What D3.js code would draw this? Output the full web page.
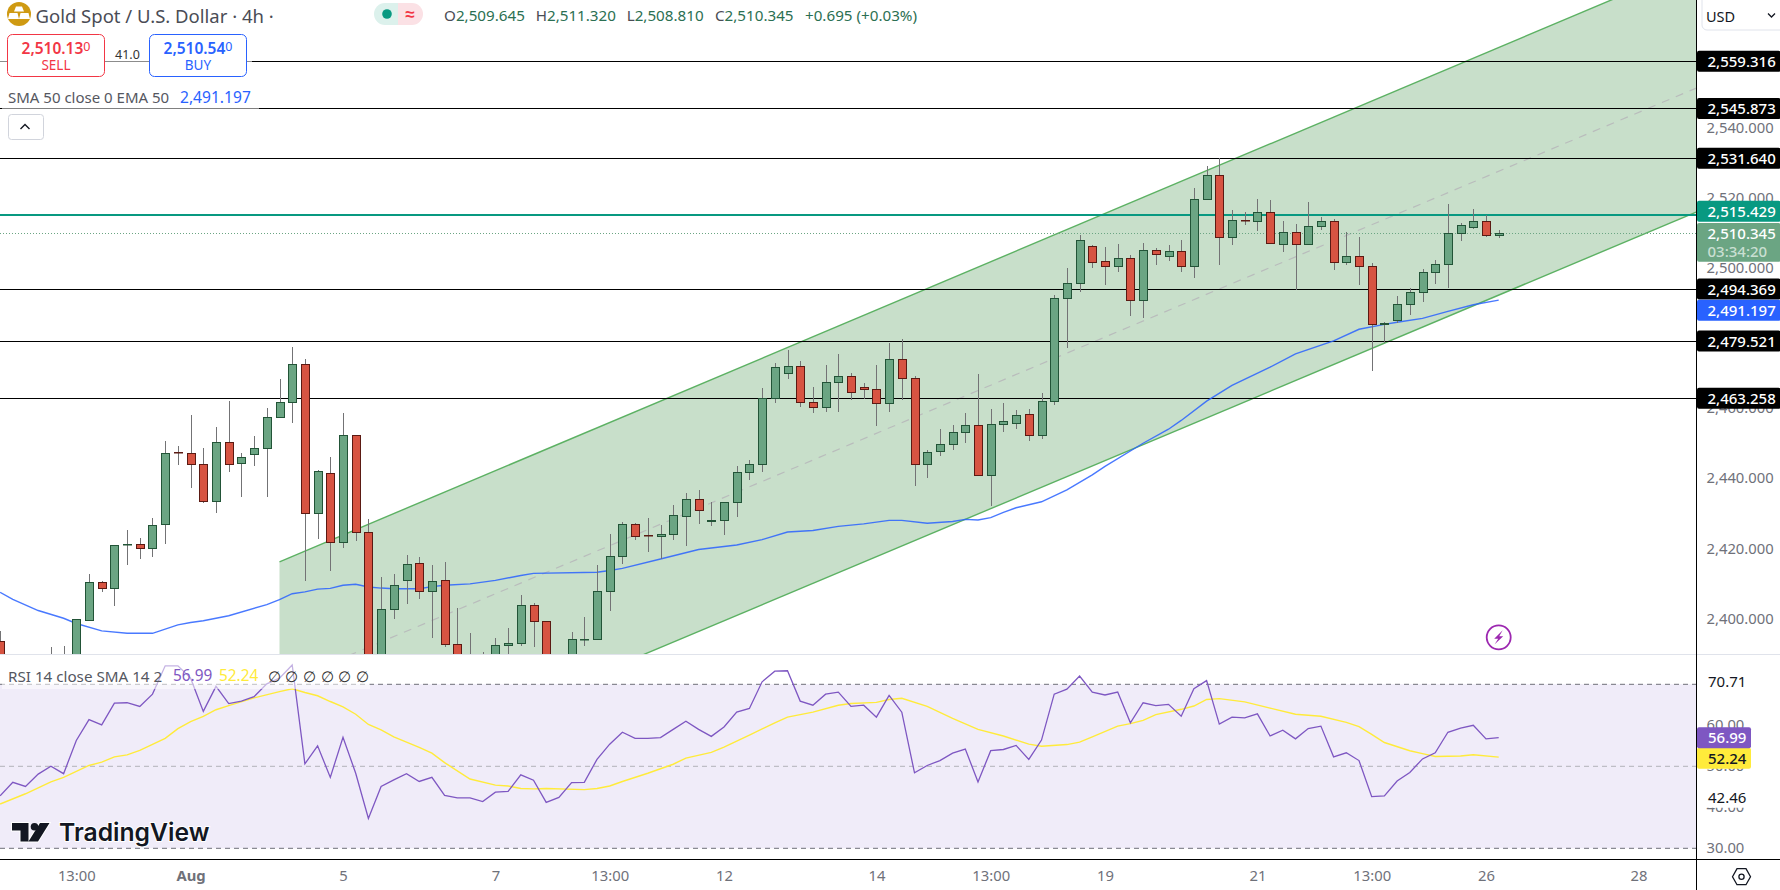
<!DOCTYPE html>
<html>
<head>
<meta charset="utf-8">
<script src="https://cdn.jsdelivr.net/npm/d3@7"></script>
<style>
  html, body { margin: 0; padding: 0; background: #fff; }
  svg { display: block; }
  text { font-family: "Noto Sans", sans-serif; }
</style>
</head>
<body>
<div id="chart"></div>
<script>
// Candles (index -6 is the one cut by the left edge, index 0 is "13:00")
var firstIndex = -6;
var opens = [2394.0,2383,2385,2383,2386,2385,
  2385,2399.9,2410.8,2409.0,2421.5,2421.6,2420.4,2427.2,2447.9,2447.6,
  2444.4,2433.8,2450.7,2444.6,2447.2,2448.9,2457.7,2462.1,2472.9,2430.4,
  2441.9,2422.2,2452.7,2425.0,2381,2403.1,2411.4,2416.2,2408.2,2411.4,
  2393.1,2385,2386,2386,2392.8,2393.4,2404.0,2399.6,2385,2388,
  2394.4,2394.5,2408.2,2418.2,2427.3,2424.2,2423.9,2424.5,2429.6,2434.4,
  2428.2,2428.5,2433.6,2442.1,2444.4,2463.2,2470.4,2472.4,2462.1,2460.7,
  2467.8,2469.5,2466.4,2465.8,2461.8,2474.4,2468.9,2444.4,2448.1,2450.1,
  2453.5,2455.5,2441.3,2455.8,2456.1,2458.7,2452.7,2462.4,2491.7,2495.9,
  2506.6,2502.3,2500.9,2503.1,2491.2,2505.4,2503.7,2505.1,2500.9,2520.0,
  2526.8,2509.1,2514.0,2513.7,2516.3,2507.1,2510.6,2507.1,2512.3,2513.7,
  2502.0,2503.7,2500.9,2484.3,2485.5,2490.0,2493.5,2499.2,2501.4,2510.3,
  2512.0,2513.7,2509.645];
var highs = [2396.9,2387,2388,2387,2392.3,2392.6,
  2400.2,2413.2,2411.2,2421.3,2425.6,2423.3,2429.0,2451.0,2449.6,2458.4,
  2449.0,2455.0,2462.4,2447.6,2452.4,2460.4,2468.7,2477.8,2474.4,2442.7,
  2446.4,2459.0,2452.7,2428.7,2412.2,2413.2,2418.5,2417.9,2415.7,2416.5,
  2403.4,2396.3,2390.8,2394.8,2397.7,2407.1,2404.8,2399.6,2389,2396.5,
  2400.8,2415.6,2424.5,2427.9,2427.6,2429.0,2427.0,2432.7,2436.2,2437.0,
  2433.6,2433.6,2443.9,2445.6,2466.1,2473.2,2476.9,2473.8,2466.4,2472.6,
  2475.8,2470.4,2467.5,2472.6,2478.9,2480.1,2469.5,2448.4,2454.4,2455.5,
  2459.0,2470.1,2460.1,2461.8,2459.8,2460.1,2464.7,2492.6,2500.3,2509.7,
  2506.9,2506.3,2507.1,2504.0,2507.4,2506.0,2506.9,2508.3,2523.1,2529.4,
  2531.7,2516.8,2516.3,2520.0,2519.7,2513.7,2512.8,2519.1,2514.8,2514.3,
  2510.6,2509.1,2501.7,2484.9,2492.3,2494.6,2500.0,2502.6,2518.5,2513.1,
  2517.1,2515.4,2511.32];
var lows = [2382,2380,2381,2380,2383,2383,
  2383,2399.9,2408.1,2404.1,2415.8,2417.5,2418.1,2421.8,2444.2,2437.5,
  2433.5,2430.4,2442.3,2435.2,2444.0,2435.2,2457.7,2456.2,2411.0,2423.1,
  2414.1,2420.4,2422.4,2378,2378,2400.4,2404.7,2406.1,2395.0,2392.2,
  2383,2382,2384,2384,2389,2392.7,2392.2,2383,2384,2386,
  2392.7,2394.2,2402.7,2416.1,2422.9,2419.5,2417.3,2422.8,2421.2,2427.5,
  2426.9,2424.1,2429.5,2440.0,2442.3,2462.0,2468.8,2460.6,2458.9,2459.2,
  2459.2,2462.7,2463.0,2455.4,2459.4,2462.7,2438.3,2440.6,2446.9,2448.6,
  2450.6,2441.3,2432.4,2453.7,2454.6,2450.9,2451.5,2461.4,2477.7,2493.4,
  2500.5,2495.4,2499.3,2486.8,2486.0,2501.1,2502.5,2499.1,2497.6,2520.0,
  2501.1,2507.0,2512.7,2511.0,2507.4,2504.8,2494.0,2507.1,2511.3,2499.7,
  2501.1,2495.4,2471.1,2478.9,2484.6,2487.0,2490.8,2495.9,2494.8,2508.2,
  2511.4,2509.1,2508.81];
var closes = [2385,2385,2383,2386,2388,2386,
  2400.0,2410.8,2409.0,2421.3,2421.6,2420.4,2427.0,2447.6,2447.8,2444.3,
  2433.8,2450.7,2444.3,2446.4,2449.0,2457.8,2462.1,2472.9,2430.4,2442.4,
  2422.2,2452.7,2425.0,2380,2403.1,2409.9,2415.9,2408.2,2411.1,2393.1,
  2385,2388,2389,2392.8,2393.4,2404.0,2399.6,2385,2388,2394.5,
  2394.5,2408.2,2418.2,2427.3,2423.9,2424.1,2424.5,2429.9,2434.4,2431.3,
  2428.5,2433.6,2442.1,2444.4,2463.2,2472.1,2472.4,2462.1,2460.7,2467.8,
  2469.5,2464.9,2465.8,2461.8,2474.4,2468.9,2444.4,2447.8,2450.1,2453.5,
  2455.5,2441.3,2455.8,2456.7,2458.4,2452.7,2462.4,2491.7,2496.0,2508.3,
  2501.9,2500.9,2503.1,2491.2,2505.4,2504.3,2505.1,2500.9,2520.0,2526.8,
  2509.1,2514.0,2513.9,2516.3,2507.4,2510.6,2507.1,2512.3,2513.7,2502.0,
  2503.7,2500.9,2484.3,2484.6,2490.0,2493.5,2499.2,2501.4,2510.3,2512.5,
  2513.7,2509.7,2510.345];

// EMA 50, read at the candles where the line bends
var emaIndex = [-6,-5,-3,-1,0,2,4,6,8,9,10,12,15,16,17,18,19,20,21,22,23,24,25,27,28,29,31,33,35,36,41,42,43,46,49,52,54,56,58,60,62,64,65,67,69,70,71,72,73,74,76,78,80,81,84,86,87,89,91,94,96,99,101,103,104,106,108,110,112];
var emaValues = [2407.9,2405.9,2402.7,2400.5,2399.0,2396.9,2396.2,2396.2,2398.6,2399.3,2399.8,2401.2,2404.4,2405.8,2407.5,2408.0,2408.8,2409.0,2409.9,2410.2,2409.4,2409.1,2408.9,2408.9,2409.5,2409.9,2410.3,2411.3,2412.7,2413.3,2413.6,2414.1,2414.7,2417.4,2420.1,2421.4,2422.9,2425.1,2425.5,2426.7,2427.4,2428.4,2428.4,2427.6,2428.1,2428.7,2428.5,2429.2,2430.7,2432.0,2433.7,2437.1,2441.4,2443.8,2450.4,2454.4,2456.9,2462.4,2466.9,2472.1,2475.9,2479.6,2482.9,2484.3,2484.9,2486.0,2488.0,2489.9,2491.197];

// Regression channel
var channelIndex = [16, 128];
var channelUpper = [2416.6, 2587.7];
var channelLower = [2346.5, 2517.0];

// Price lines and axis
var blackLevels = [2559.316, 2545.873, 2531.64, 2494.369, 2479.521, 2463.258];
var pivotLevel = 2515.429;
var lastPrice = 2510.345;
var emaLast = 2491.197;
var priceTicks = [2400, 2420, 2440, 2460, 2480, 2500, 2520, 2540, 2560];

// RSI, one value per candle from index -6
var rsiValues = [42.8,46.1,45.1,48.1,50.0,48.2,
  56.3,61.4,60.1,65.4,65.5,64.6,67.6,74.5,74.5,71.5,
  63.4,69.5,65.3,65.9,67.0,70.1,71.5,74.7,50.6,55.0,
  47.3,57.1,48.3,37.3,45.1,46.7,48.2,46.3,47.3,42.9,
  42.3,42.3,41.4,43.7,43.9,47.9,46.6,41.2,42.4,46.0,
  46.1,51.7,55.4,58.3,56.8,56.8,57.0,59.0,61.0,59.0,
  57.3,59.6,63.2,64.1,70.6,73.2,73.3,65.9,64.9,67.6,
  68.1,64.6,64.9,62.0,67.3,63.2,48.4,50.2,51.4,53.2,
  54.2,46.2,53.8,54.1,55.1,51.7,56.4,67.6,68.8,72.0,
  68.1,67.4,68.1,60.6,65.5,64.8,65.1,62.2,68.9,70.9,
  60.3,62.0,61.8,62.8,57.4,58.8,56.7,59.2,59.8,52.3,
  53.3,51.4,42.6,42.8,46.4,48.5,51.8,53.3,58.3,59.3,
  60.0,56.7,56.99];

// RSI moving average, read where it bends
var rsiSmaIndex = [-6,-4,-2,-1,1,2,3,4,5,7,8,9,10,11,12,14,16,17,18,19,20,21,22,23,24,25,27,28,29,31,33,34,35,36,37,40,41,42,43,45,47,48,50,51,53,55,56,58,60,61,63,64,65,67,69,71,73,75,76,78,79,80,82,83,84,85,87,88,89,90,92,94,96,98,100,101,102,103,105,106,107,109,110,112];
var rsiSmaValues = [40.8,43.3,46.2,47.3,50.2,51.0,52.3,52.8,53.9,56.8,59.2,60.9,62.2,63.8,64.8,66.7,68.2,68.9,68.0,67.2,65.8,64.5,62.7,60.2,58.9,57.2,54.6,53.2,50.9,46.9,45.4,45.2,44.6,44.5,44.6,44.3,44.6,45.2,46.3,48.3,50.5,52.0,53.4,54.7,57.6,60.6,62.0,63.2,64.9,65.3,65.6,66.3,66.6,64.6,61.7,59.0,57.4,55.4,54.9,55.3,55.9,57.2,59.8,60.4,61.2,62.6,63.9,64.7,66.3,66.5,65.7,64.2,62.7,62.2,60.7,59.7,57.8,55.8,53.8,53.1,52.4,52.5,52.8,52.24];

var rsiLevels = [70, 50, 30];
var rsiTicks = [30, 40, 50, 60];
var rsiLast = 56.99;
var rsiSmaLast = 52.24;
var rsiLow = 42.46;
var rsiHigh = 70.71;

// Time axis
var timeTickIndex = [0, 9, 21, 33, 42, 51, 63, 72, 81, 93, 102, 111, 123];
var timeTickLabels = ["13:00", "Aug", "5", "7", "13:00", "12", "14", "13:00", "19", "21", "13:00", "26", "28"];

// Colours and page frame
var upFill = "#6ba583", upLine = "#225437", downFill = "#d75442", downLine = "#5b1a13";
var W = 1780, H = 890, paneRight = 1696.5, priceBottom = 654, rsiBottom = 859;

var svg = d3.select("#chart").append("svg").attr("width", W).attr("height", H);

// Scales
var x = d3.scaleLinear().domain([-6, 128]).range([0.1, 1701.9]);
var y = d3.scaleLinear().domain([2390.3, 2559.316]).range([priceBottom, 61.3]);
var yRsi = d3.scaleLinear().domain([30, 70]).range([848.3, 684.3]);

// Snap to the middle of a pixel row or column, the lines in the picture are crisp
function crisp(v) { return Math.round(v) + 0.5; }

var defs = svg.append("defs");
defs.append("clipPath").attr("id", "priceClip").append("rect")
  .attr("x", 0).attr("y", 0).attr("width", paneRight).attr("height", priceBottom);
defs.append("clipPath").attr("id", "rsiClip").append("rect")
  .attr("x", 0).attr("y", priceBottom).attr("width", paneRight).attr("height", rsiBottom - priceBottom);

// Small helper for all the loose text
function label(parent, px, py, str, size, color, weight, anchor) {
  return parent.append("text")
    .attr("x", px).attr("y", py)
    .attr("font-size", size)
    .attr("fill", color)
    .attr("font-weight", weight || 400)
    .attr("text-anchor", anchor || "start")
    .attr("dominant-baseline", "central")
    .text(str);
}

// ---------- Price pane ----------
var price = svg.append("g").attr("clip-path", "url(#priceClip)");

var channelRows = channelIndex.map(function (d, i) {
  return { i: d, up: channelUpper[i], lo: channelLower[i] };
});
price.append("path").datum(channelRows)
  .attr("fill", "#c8dfca")
  .attr("d", d3.area().x(function (d) { return x(d.i); })
    .y0(function (d) { return y(d.lo); }).y1(function (d) { return y(d.up); }));

["up", "lo"].forEach(function (k) {
  price.append("path").datum(channelRows)
    .attr("fill", "none").attr("stroke", "#5cb163").attr("stroke-width", 1.4)
    .attr("d", d3.line().x(function (d) { return x(d.i); }).y(function (d) { return y(d[k]); }));
});
price.append("path").datum(channelRows)
  .attr("fill", "none").attr("stroke", "#b9bcbc").attr("stroke-width", 1.2)
  .attr("stroke-dasharray", "8 7")
  .attr("d", d3.line().x(function (d) { return x(d.i); }).y(function (d) { return y((d.up + d.lo) / 2); }));

// Horizontal levels
price.selectAll(".level").data(blackLevels).enter().append("line")
  .attr("x1", 0).attr("x2", paneRight)
  .attr("y1", function (d) { return crisp(y(d) - 0.5); }).attr("y2", function (d) { return crisp(y(d) - 0.5); })
  .attr("stroke", "#000").attr("stroke-width", 1);
price.append("line").attr("x1", 0).attr("x2", paneRight)
  .attr("y1", Math.round(y(pivotLevel))).attr("y2", Math.round(y(pivotLevel)))
  .attr("stroke", "#089981").attr("stroke-width", 2);
price.append("line").attr("x1", 0).attr("x2", paneRight)
  .attr("y1", crisp(y(lastPrice) - 0.5)).attr("y2", crisp(y(lastPrice) - 0.5))
  .attr("stroke", "#6ba583").attr("stroke-width", 1).attr("stroke-dasharray", "1 2");

// EMA
price.append("path").datum(emaValues)
  .attr("fill", "none").attr("stroke", "#2962ff").attr("stroke-width", 1.4).attr("opacity", 0.85)
  .attr("d", d3.line().x(function (d, i) { return x(emaIndex[i]); }).y(function (d) { return y(d); }));

// Candles
var candles = d3.range(opens.length).map(function (i) {
  return { i: i + firstIndex, o: opens[i], h: highs[i], l: lows[i], c: closes[i] };
});
var candle = price.selectAll(".candle").data(candles).enter().append("g");
candle.append("line")
  .attr("x1", function (d) { return crisp(x(d.i)); })
  .attr("x2", function (d) { return crisp(x(d.i)); })
  .attr("y1", function (d) { return Math.round(y(d.h)); }).attr("y2", function (d) { return Math.round(y(d.l)); })
  .attr("stroke", "#737375").attr("stroke-width", 1);
candle.append("rect")
  .attr("x", function (d) { return crisp(x(d.i)) - 4; })
  .attr("width", 8)
  .attr("y", function (d) { return crisp(y(Math.max(d.o, d.c)) - 0.5); })
  .attr("height", function (d) {
    // a doji still shows as a thin bar
    return Math.max(0.5, crisp(y(Math.min(d.o, d.c)) - 0.5) - crisp(y(Math.max(d.o, d.c)) - 0.5));
  })
  .attr("fill", function (d) { return d.c >= d.o ? upFill : downFill; })
  .attr("stroke", function (d) { return d.c >= d.o ? upLine : downLine; })
  .attr("stroke-width", 1);

// Lightning marker
var bolt = svg.append("g").attr("transform", "translate(" + x(112) + ",637.3)");
bolt.append("circle").attr("r", 12).attr("fill", "#fff").attr("stroke", "#9c27b0").attr("stroke-width", 1.8);
bolt.append("path").attr("d", "M4,-7 L-4.5,1.5 L-0.5,1.5 L-4,7 L4.5,-1 L0.5,-1 Z").attr("fill", "#9c27b0");

// Header text and overlays
var head = svg.append("g");
head.append("circle").attr("cx", 19).attr("cy", 14).attr("r", 12).attr("fill", "#cf9a12");
head.append("path").attr("d", "M16,6.5 H22 L24,11.5 H14 Z M9.5,13 H17.5 L19,19 H8 Z M20.5,13 H28.5 L30,19 H19 Z").attr("fill", "#fff");
label(head, 35.5, 15, "Gold Spot / U.S. Dollar · 4h ·", 18.5, "#4a4c55");

head.append("path").attr("d", "M385,3 H398 V25 H385 A11,11 0 0 1 385,3 Z").attr("fill", "#dcf1ec");
head.append("path").attr("d", "M398,3 H412 A11,11 0 0 1 412,25 H398 Z").attr("fill", "#fbe1e5");
head.append("circle").attr("cx", 387).attr("cy", 14).attr("r", 4.8).attr("fill", "#089981");
label(head, 410, 13.5, "≈", 17, "#f23645", 700, "middle");

var ohlc = [["O", "2,509.645", 444], ["H", "2,511.320", 535.7], ["L", "2,508.810", 626.7], ["C", "2,510.345", 715]];
ohlc.forEach(function (d) {
  var t = label(head, d[2], 15, d[0], 15.2, "#4a4c55");
  t.append("tspan").attr("fill", "#2b6f52").text(d[1]);
});
label(head, 805, 15, "+0.695 (+0.03%)", 15.2, "#2b6f52");

// Translucent legend bands wash out the black levels behind them
head.append("rect").attr("x", 0).attr("y", 32).attr("width", 252).attr("height", 46).attr("fill", "#fff").attr("opacity", 0.55);
head.append("rect").attr("x", 2).attr("y", 86).attr("width", 257).attr("height", 23).attr("fill", "#fff").attr("opacity", 0.5);

function tradeBox(bx, main, small, word, color) {
  head.append("rect").attr("x", bx + 0.5).attr("y", 34.5).attr("width", 97).attr("height", 42).attr("rx", 5)
    .attr("fill", "#fff").attr("stroke", color).attr("stroke-width", 1);
  var t = label(head, bx + 49, 47.5, main, 15.5, color, 600, "middle");
  t.append("tspan").attr("font-size", 12.5).attr("font-weight", 400).attr("dy", -1.5).text(small);
  label(head, bx + 49, 65, word, 13.5, color, 400, "middle");
}
tradeBox(7, "2,510.13", "0", "SELL", "#f23645");
tradeBox(149, "2,510.54", "0", "BUY", "#2962ff");
label(head, 127.4, 54.3, "41.0", 12.5, "#333", 400, "middle");

label(head, 8, 97, "SMA 50 close 0 EMA 50", 15, "#55575f");
label(head, 180, 97, "2,491.197", 15.6, "#2962ff");

head.append("rect").attr("x", 8.5).attr("y", 114.5).attr("width", 35).attr("height", 25).attr("rx", 3)
  .attr("fill", "#fff").attr("stroke", "#d1d4dc");
head.append("path").attr("d", "M20.5,129 L25,124.5 L29.5,129").attr("fill", "none").attr("stroke", "#131722").attr("stroke-width", 1.4);

// ---------- RSI pane ----------
var rsi = svg.append("g").attr("clip-path", "url(#rsiClip)");
rsi.append("rect").attr("x", 0).attr("width", paneRight)
  .attr("y", yRsi(70)).attr("height", yRsi(30) - yRsi(70)).attr("fill", "#f0ecf9");
rsi.selectAll(".rsiLevel").data(rsiLevels).enter().append("line")
  .attr("x1", 0).attr("x2", paneRight)
  .attr("y1", function (d) { return yRsi(d); }).attr("y2", function (d) { return yRsi(d); })
  .attr("stroke", function (d) { return d === 50 ? "#b2b3ba" : "#6f7078"; })
  .attr("stroke-dasharray", "5 4");
rsi.append("path").datum(rsiSmaValues)
  .attr("fill", "none").attr("stroke", "#ffeb3b").attr("stroke-width", 1.4)
  .attr("d", d3.line().x(function (d, i) { return x(rsiSmaIndex[i]); }).y(function (d) { return yRsi(d); }));
rsi.append("path").datum(rsiValues)
  .attr("fill", "none").attr("stroke", "#7e57c2").attr("stroke-width", 1.3)
  .attr("d", d3.line().x(function (d, i) { return x(i + firstIndex); }).y(function (d) { return yRsi(d); }));

// RSI legend
var leg = svg.append("g");
leg.append("rect").attr("x", 2).attr("y", 660).attr("width", 368).attr("height", 29).attr("fill", "#fff").attr("opacity", 0.55);
label(leg, 8, 675.5, "RSI 14 close SMA 14 2", 15.2, "#55575f");
label(leg, 173, 675.5, "56.99", 15.4, "#7e57c2");
label(leg, 219, 675.5, "52.24", 15.4, "#ffeb3b");
[268, 285, 303, 321, 338, 356].forEach(function (px) {
  label(leg, px, 675.5, "∅", 15, "#333");
});

// TradingView watermark
var logo = svg.append("g");
logo.append("path")
  .attr("d", "M12,823 H28.5 V841.5 H20.5 V830.5 H12 Z M40,823 H49.5 L38,841.5 H28.5 Z")
  .attr("fill", "#131722").attr("stroke", "#fff").attr("stroke-width", 2).attr("paint-order", "stroke");
logo.append("circle").attr("cx", 34.5).attr("cy", 826.7).attr("r", 3.8).attr("fill", "#131722");
label(logo, 59, 832, "TradingView", 24.7, "#131722", 600)
  .attr("style", "font-family:Inter,sans-serif")
  .attr("stroke", "#fff").attr("stroke-width", 2).attr("paint-order", "stroke");

// ---------- Frame ----------
svg.append("rect").attr("x", paneRight).attr("y", 0).attr("width", W - paneRight).attr("height", H).attr("fill", "#fff");
svg.append("line").attr("x1", 0).attr("x2", W).attr("y1", priceBottom + 0.5).attr("y2", priceBottom + 0.5)
  .attr("stroke", "#e0e3eb").attr("stroke-width", 1);
svg.append("line").attr("x1", 0).attr("x2", W).attr("y1", rsiBottom + 0.5).attr("y2", rsiBottom + 0.5)
  .attr("stroke", "#000").attr("stroke-width", 1);
svg.append("line").attr("x1", paneRight).attr("x2", paneRight).attr("y1", 0).attr("y2", H)
  .attr("stroke", "#000").attr("stroke-width", 1);

// ---------- Axes ----------
function styleAxis(g, size) {
  g.select(".domain").remove();
  g.selectAll("text").attr("font-size", size).attr("fill", "#6f717a")
    .style("font-family", '"Noto Sans", sans-serif');
}
var priceAxis = svg.append("g")
  .attr("transform", "translate(" + paneRight + ",-1.5)")
  .call(d3.axisRight(y).tickValues(priceTicks).tickSize(0).tickPadding(10).tickFormat(d3.format(",.3f")));
styleAxis(priceAxis, 14.8);

var rsiAxis = svg.append("g")
  .attr("transform", "translate(" + paneRight + ",-0.5)")
  .call(d3.axisRight(yRsi).tickValues(rsiTicks).tickSize(0).tickPadding(10).tickFormat(d3.format(".2f")));
styleAxis(rsiAxis, 14.8);

var timeAxis = svg.append("g")
  .attr("transform", "translate(0," + rsiBottom + ")")
  .call(d3.axisBottom(x).tickValues(timeTickIndex).tickSize(0).tickPadding(11)
    .tickFormat(function (d, i) { return timeTickLabels[i]; }));
styleAxis(timeAxis, 14.8);
timeAxis.selectAll("text").attr("font-weight", function (d, i) { return timeTickLabels[i] === "Aug" ? 700 : 400; });

// USD selector
var axisBits = svg.append("g");
axisBits.append("rect").attr("x", 1702).attr("y", -6).attr("width", 90).attr("height", 36).attr("rx", 5)
  .attr("fill", "#fff").attr("stroke", "#e0e3eb");
label(axisBits, 1706, 15.5, "USD", 14.5, "#131722");
axisBits.append("path").attr("d", "M1768,13.5 L1771.5,17 L1775,13.5").attr("fill", "none").attr("stroke", "#131722").attr("stroke-width", 1.3);

// Price tags on the axis; a tag is pushed aside when it would sit on its neighbour
function priceTag(val, fill, textFill, shift) {
  var cy = y(val) + (shift || 0);
  axisBits.append("rect").attr("x", paneRight + 0.5).attr("y", cy - 10.5).attr("width", W - paneRight).attr("height", 21)
    .attr("rx", 2).attr("fill", fill);
  label(axisBits, 1707.5, cy - 0.5, d3.format(",.3f")(val), 15, textFill, 500);
}
blackLevels.forEach(function (d) { priceTag(d, "#000", "#fff"); });
priceTag(pivotLevel, "#089981", "#fff", -4);
priceTag(emaLast, "#2962ff", "#fff", 10);

// Last price tag with countdown
axisBits.append("rect").attr("x", paneRight + 0.5).attr("y", 223).attr("width", W - paneRight).attr("height", 38.7)
  .attr("rx", 2).attr("fill", upFill);
label(axisBits, 1707.5, 232.7, d3.format(",.3f")(lastPrice), 15, "#fff", 500);
label(axisBits, 1707.5, 250.7, "03:34:20", 15, "#c9dfd2", 500);

// RSI tags
function rsiTag(val, fill, textFill, weight, shift) {
  var cy = yRsi(val) + (shift || 0);
  axisBits.append("rect").attr("x", paneRight + 0.5).attr("y", cy - 10.5).attr("width", 54).attr("height", 21)
    .attr("rx", 2).attr("fill", fill);
  label(axisBits, 1708, cy - 0.5, d3.format(".2f")(val), 15, textFill, weight);
}
rsiTag(rsiHigh, "#fff", "#131722", 400);
rsiTag(rsiLow, "#fff", "#131722", 400);
rsiTag(rsiSmaLast, "#ffeb3b", "#131722", 500, 1.2);
rsiTag(rsiLast, "#7e57c2", "#fff", 500);

// Settings hexagon
axisBits.append("path").attr("d", "M1732.5,876.7 L1737,868.7 H1746 L1750.5,876.7 L1746,884.7 H1737 Z")
  .attr("fill", "none").attr("stroke", "#131722").attr("stroke-width", 1.3);
axisBits.append("circle").attr("cx", 1741.5).attr("cy", 876.7).attr("r", 2.6)
  .attr("fill", "none").attr("stroke", "#131722").attr("stroke-width", 1.3);
</script>
</body>
</html>
